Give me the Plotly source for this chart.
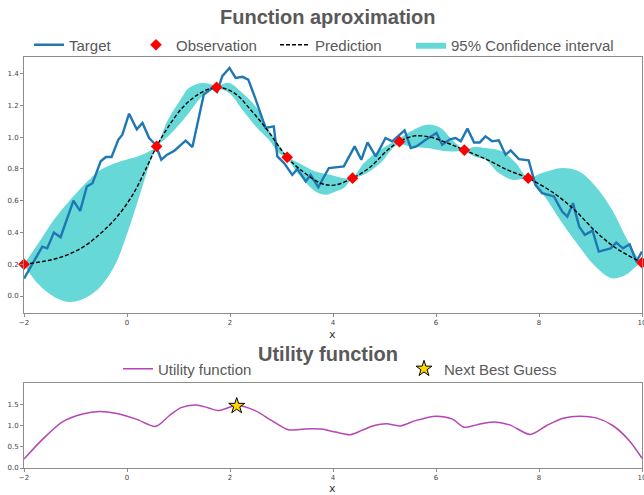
import plotly.graph_objects as go

# ---------------- data ----------------
target_x = [-2.0, -1.645, -1.55, -1.42, -1.29, -1.04, -0.91, -0.78, -0.67, -0.51, -0.41, -0.30,
            -0.17, -0.09, 0.04, 0.19, 0.30, 0.43, 0.555, 0.665, 0.78, 0.92, 1.04, 1.14, 1.27,
            1.49, 1.656, 1.75, 1.85, 1.99, 2.11, 2.24, 2.355, 2.50, 2.69, 2.85, 2.92, 3.05,
            3.21, 3.31, 3.47, 3.565, 3.715, 3.92, 4.21, 4.42, 4.55, 4.67, 4.83, 5.02, 5.15,
            5.39, 5.51, 5.62, 5.80, 6.01, 6.12, 6.28, 6.38, 6.48, 6.61, 6.74, 6.85, 6.96,
            7.09, 7.22, 7.35, 7.45, 7.61, 7.80, 7.93, 8.06, 8.29, 8.45, 8.55, 8.66, 8.78,
            8.89, 9.04, 9.16, 9.39, 9.50, 9.63, 9.76, 9.89, 10.0]
target_y = [0.11, 0.311, 0.30, 0.40, 0.37, 0.60, 0.536, 0.69, 0.71, 0.848, 0.875, 0.875,
            0.984, 1.016, 1.148, 1.05, 1.09, 0.995, 0.953, 0.858, 0.89, 0.915, 0.95, 0.978, 0.938,
            1.268, 1.31, 1.285, 1.384, 1.436, 1.373, 1.38, 1.363, 1.237, 1.058, 1.068, 0.879, 0.837,
            0.763, 0.80, 0.721, 0.763, 0.686, 0.806, 0.816, 0.942, 0.858, 0.967, 0.879, 0.995, 0.974,
            1.043, 0.932, 0.942, 0.984, 1.026, 0.953, 0.988, 0.995, 0.974, 1.054, 0.967, 0.967, 1.005,
            0.974, 0.98, 0.89, 0.917, 0.862, 0.854, 0.70, 0.648, 0.627, 0.532, 0.50, 0.585, 0.437,
            0.385, 0.412, 0.28, 0.30, 0.336, 0.30, 0.326, 0.216, 0.28]

obs_x = [-2.0, 0.575, 1.74, 3.11, 4.38, 5.29, 6.55, 7.79, 10.0]
obs_y = [0.20, 0.942, 1.314, 0.873, 0.742, 0.972, 0.919, 0.742, 0.21]

pred_x = [-2.0, -1.48, -1.16, -0.84, -0.51, -0.19, 0.13, 0.39, 0.575, 0.78, 1.10, 1.43, 1.74,
          2.08, 2.40, 2.72, 3.11, 3.37, 3.76, 4.02, 4.38, 4.73, 5.06, 5.29, 5.58, 5.90, 6.23,
          6.55, 7.01, 7.40, 7.79, 8.30, 8.70, 9.08, 9.47, 10.0]
pred_y = [0.20, 0.227, 0.259, 0.311, 0.395, 0.50, 0.648, 0.816, 0.942, 1.055, 1.194, 1.279, 1.314,
          1.279, 1.173, 1.047, 0.873, 0.795, 0.71, 0.698, 0.742, 0.814, 0.919, 0.972, 1.008, 0.999, 0.962,
          0.919, 0.856, 0.792, 0.742, 0.645, 0.539, 0.413, 0.307, 0.21]

ci_upper_x = [-2.0, -1.68, -1.42, -1.10, -0.77, -0.51, -0.12, 0.20, 0.40, 0.575, 0.78, 1.04, 1.20,
              1.46, 1.74, 1.98, 2.24, 2.50, 2.755, 3.015, 3.11, 3.34, 3.66, 3.95, 4.21, 4.38,
              4.60, 4.92, 5.25, 5.51, 5.83, 6.09, 6.28, 6.55, 6.74, 6.96, 7.29, 7.55, 7.79,
              8.06, 8.45, 8.78, 9.10, 9.42, 9.68, 9.88, 10.0]
ci_upper_y = [0.20, 0.353, 0.48, 0.606, 0.721, 0.795, 0.848, 0.879, 0.905, 0.945, 1.10, 1.237, 1.31,
              1.342, 1.325, 1.342, 1.279, 1.194, 1.047, 0.921, 0.88, 0.837, 0.784, 0.763, 0.742, 0.745,
              0.837, 0.921, 0.984, 1.037, 1.079, 1.058, 0.995, 0.925, 0.938, 0.932, 0.91, 0.837, 0.745,
              0.774, 0.806, 0.784, 0.69, 0.543, 0.374, 0.259, 0.21]
ci_lower_x = [-2.0, -1.74, -1.42, -1.16, -0.90, -0.58, -0.25, 0.006, 0.26, 0.45, 0.575, 0.78, 1.04,
              1.20, 1.46, 1.74, 1.98, 2.24, 2.50, 2.755, 2.95, 3.11, 3.34, 3.66, 3.86, 4.05, 4.21,
              4.38, 4.60, 4.92, 5.25, 5.51, 5.83, 6.09, 6.35, 6.55, 6.74, 6.96, 7.22, 7.48, 7.675,
              7.79, 8.06, 8.45, 8.78, 9.10, 9.42, 9.68, 9.88, 10.0]
ci_lower_y = [0.20, 0.08, -0.004, -0.036, -0.025, 0.038, 0.185, 0.395, 0.648, 0.84, 0.94, 1.0, 1.09,
              1.153, 1.257, 1.305, 1.279, 1.173, 1.068, 0.984, 0.90, 0.865, 0.763, 0.658, 0.637, 0.658, 0.68,
              0.738, 0.763, 0.837, 0.953, 0.942, 0.932, 0.917, 0.91, 0.912, 0.879, 0.858, 0.774, 0.732, 0.736,
              0.74, 0.648, 0.459, 0.311, 0.185, 0.112, 0.132, 0.185, 0.21]

util_x = [-2.0, -1.66, -1.26, -0.86, -0.54, -0.22, 0.18, 0.56, 0.82, 1.05, 1.33, 1.57, 1.77,
          2.13, 2.49, 2.81, 3.13, 3.45, 3.77, 4.05, 4.34, 4.56, 4.80, 5.04, 5.30, 5.60, 6.0,
          6.32, 6.54, 6.80, 7.11, 7.43, 7.83, 8.15, 8.47, 8.79, 9.11, 9.43, 9.75, 10.0]
util_y = [0.21, 0.65, 1.08, 1.27, 1.33, 1.29, 1.15, 0.98, 1.23, 1.42, 1.48, 1.42, 1.35,
          1.47, 1.35, 1.115, 0.90, 0.92, 0.915, 0.846, 0.785, 0.885, 1.0, 1.04, 0.99, 1.115, 1.22,
          1.15, 0.96, 1.02, 1.085, 1.015, 0.79, 1.0, 1.17, 1.22, 1.18, 1.0, 0.65, 0.23]

best_x = [2.13]
best_y = [1.46]

x_ticks = [-2, 0, 2, 4, 6, 8, 10]
y1_ticks = [0.0, 0.2, 0.4, 0.6, 0.8, 1.0, 1.2, 1.4]
y2_ticks = [0.0, 0.5, 1.0, 1.5]

# ---------------- figure ----------------
W, H = 644, 495
fig = go.Figure()

fig.add_trace(go.Scatter(x=ci_lower_x, y=ci_lower_y, mode="lines",
                         line=dict(width=0, shape="spline", color="#66d8d8"),
                         showlegend=False, hoverinfo="skip", xaxis="x", yaxis="y"))
fig.add_trace(go.Scatter(x=ci_upper_x, y=ci_upper_y, mode="lines", fill="tonexty",
                         fillcolor="#66d8d8", line=dict(width=0, shape="spline", color="#66d8d8"),
                         name="95% Confidence interval", legend="legend4", xaxis="x", yaxis="y"))
fig.add_trace(go.Scatter(x=target_x, y=target_y, mode="lines",
                         line=dict(color="#1f77b4", width=2.4),
                         name="Target", legend="legend", xaxis="x", yaxis="y"))
fig.add_trace(go.Scatter(x=pred_x, y=pred_y, mode="lines",
                         line=dict(color="black", width=1.4, dash="4px,2px", shape="spline"),
                         name="Prediction", legend="legend3", xaxis="x", yaxis="y"))
fig.add_trace(go.Scatter(x=obs_x, y=obs_y, mode="markers",
                         marker=dict(symbol="diamond", color="red", size=9),
                         name="Observation", legend="legend2", xaxis="x", yaxis="y",
                         cliponaxis=False))

fig.add_trace(go.Scatter(x=util_x, y=util_y, mode="lines",
                         line=dict(color="#b646b6", width=1.5, shape="spline", smoothing=0.8),
                         name="Utility function", legend="legend5", xaxis="x2", yaxis="y2"))
fig.add_trace(go.Scatter(x=best_x, y=best_y, mode="markers",
                         marker=dict(symbol="star", color="gold", size=12,
                                     line=dict(color="black", width=1)),
                         name="Next Best Guess", legend="legend6", xaxis="x2", yaxis="y2"))

axis_common = dict(showgrid=False, zeroline=False, showline=True, linecolor="#8c8c8c",
                   linewidth=1, mirror=True, ticks="outside", ticklen=3, tickcolor="#8c8c8c",
                   ticklabeloverflow="allow", automargin=False,
                   tickfont=dict(size=7, color="#444", family="DejaVu Sans"))

x_dom = [24 / W, 642 / W]
fig.update_layout(
    width=W, height=H,
    margin=dict(l=0, r=0, t=0, b=0, autoexpand=False),
    paper_bgcolor="white", plot_bgcolor="white",
    xaxis=dict(domain=x_dom, range=[-2, 10], tickvals=x_ticks, anchor="y", **axis_common),
    yaxis=dict(domain=[1 - 313 / H, 1 - 57 / H], range=[-0.107, 1.505], tickvals=y1_ticks,
               tickformat=".1f", anchor="x", **axis_common),
    xaxis2=dict(domain=x_dom, range=[-2, 10], tickvals=x_ticks, anchor="y2", **axis_common),
    yaxis2=dict(domain=[1 - 468 / H, 1 - 383 / H], range=[0, 2.0], tickvals=y2_ticks,
                tickformat=".1f", anchor="x2", **axis_common),
)

leg_font = dict(size=15, color="#595959", family="Liberation Sans")


def leg(text_start, yc):
    return dict(x=(text_start - 40) / W, xanchor="left", y=1 - yc / H, yanchor="middle",
                orientation="h", bgcolor="rgba(0,0,0,0)", font=leg_font, borderwidth=0)


fig.update_layout(
    legend=leg(69, 45), legend2=leg(176, 45), legend3=leg(315, 45), legend4=leg(451, 45),
    legend5=leg(158, 369), legend6=leg(444, 369),
)

title_font = dict(size=20, color="#595959", family="Liberation Sans")
fig.add_annotation(text="<b>Function aproximation</b>", x=328 / W, y=1 - 17 / H, xref="paper",
                   yref="paper", showarrow=False, font=title_font, xanchor="center", yanchor="middle")
fig.add_annotation(text="<b>Utility function</b>", x=328 / W, y=1 - 354 / H, xref="paper",
                   yref="paper", showarrow=False, font=title_font, xanchor="center", yanchor="middle",
                   borderpad=0)
label_font = dict(size=11, color="#333", family="DejaVu Sans")
fig.add_annotation(text="x", x=333 / W, y=1 - 334 / H, xref="paper", yref="paper", showarrow=False,
                   font=label_font, xanchor="center", yanchor="middle", borderpad=0)
fig.add_annotation(text="x", x=333 / W, y=0, xref="paper", yref="paper", showarrow=False,
                   font=label_font, xanchor="center", yanchor="bottom", yshift=-1, borderpad=0)

fig.write_html("out.html", config={"displayModeBar": False},
               post_script="document.body.style.margin='0';document.body.style.overflow='hidden';")
